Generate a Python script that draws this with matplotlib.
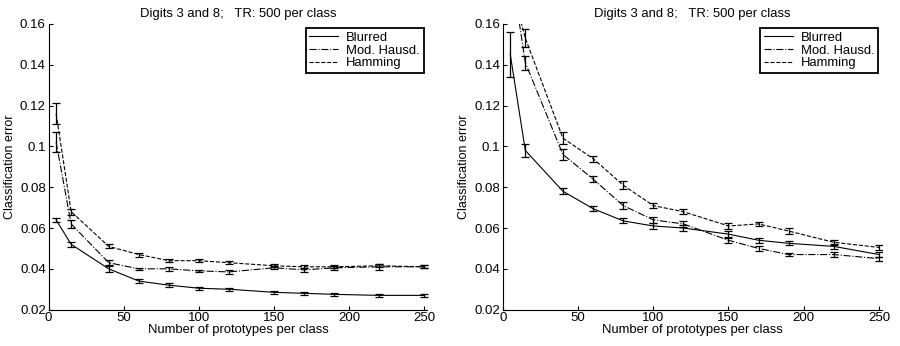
import matplotlib.pyplot as plt
from matplotlib.lines import Line2D

plt.rcParams["font.family"] = ["Liberation Sans", "DejaVu Sans"]

# number of prototypes per class
n_proto = [5, 15, 40, 60, 80, 100, 120, 150, 170, 190, 220, 250]

# left panel
left_blur = [0.064, 0.052, 0.040, 0.034, 0.032, 0.0305, 0.030, 0.0285, 0.028, 0.0275, 0.027, 0.027]
left_blur_err = [0.001, 0.0012, 0.0015, 0.0008, 0.001, 0.0007, 0.0008, 0.0006, 0.0008, 0.0006, 0.0007, 0.0006]
left_haus = [0.102, 0.062, 0.043, 0.040, 0.040, 0.039, 0.0385, 0.0405, 0.0395, 0.0405, 0.041, 0.041]
left_haus_err = [0.005, 0.002, 0.0012, 0.0006, 0.001, 0.0006, 0.001, 0.0008, 0.001, 0.001, 0.0015, 0.0008]
left_hamm = [0.116, 0.068, 0.051, 0.047, 0.044, 0.044, 0.043, 0.0415, 0.041, 0.041, 0.0415, 0.041]
left_hamm_err = [0.005, 0.0015, 0.001, 0.001, 0.0008, 0.0008, 0.0008, 0.0008, 0.0008, 0.0008, 0.0008, 0.0008]

# right panel (first Mod. Hausd. / Hamming points lie above the axis)
right_blur = [0.145, 0.098, 0.078, 0.0695, 0.0635, 0.061, 0.060, 0.057, 0.054, 0.0525, 0.051, 0.047]
right_blur_err = [0.011, 0.003, 0.0015, 0.0012, 0.0012, 0.0013, 0.0013, 0.0013, 0.0012, 0.001, 0.0013, 0.0012]
right_haus = [0.19, 0.141, 0.096, 0.084, 0.071, 0.064, 0.062, 0.054, 0.050, 0.047, 0.047, 0.045]
right_haus_err = [0.004, 0.0035, 0.0025, 0.0015, 0.0015, 0.0015, 0.0015, 0.0013, 0.0012, 0.0008, 0.0012, 0.001]
right_hamm = [0.181, 0.153, 0.104, 0.094, 0.081, 0.071, 0.068, 0.061, 0.062, 0.0585, 0.053, 0.0505]
right_hamm_err = [0.004, 0.0045, 0.003, 0.0015, 0.002, 0.0012, 0.0012, 0.0015, 0.001, 0.0013, 0.0013, 0.0012]

labels = ["Blurred", "Mod. Hausd.", "Hamming"]
styles = ["-", "-.", "--"]

fig = plt.figure(figsize=(9, 3.46), dpi=100)
ax1 = fig.add_axes([0.054, 0.105, 0.421, 0.826])
ax2 = fig.add_axes([0.5586, 0.105, 0.4214, 0.826])

panels = [
    (ax1, [(left_blur, left_blur_err), (left_haus, left_haus_err), (left_hamm, left_hamm_err)]),
    (ax2, [(right_blur, right_blur_err), (right_haus, right_haus_err), (right_hamm, right_hamm_err)]),
]

for ax, series in panels:
    for (vals, errs), ls in zip(series, styles):
        ax.errorbar(n_proto, vals, yerr=errs, ls=ls, color="black", lw=0.8,
                    capsize=3, elinewidth=0.9, capthick=0.9)
    ax.set_xlim(0, 252)
    ax.set_ylim(0.02, 0.16)
    ax.set_xticks([0, 50, 100, 150, 200, 250])
    ax.set_yticks([0.02, 0.04, 0.06, 0.08, 0.1, 0.12, 0.14, 0.16])
    ax.set_yticklabels(["0.02", "0.04", "0.06", "0.08", "0.1", "0.12", "0.14", "0.16"])
    ax.spines["top"].set_visible(False)
    ax.spines["right"].set_visible(False)
    ax.tick_params(direction="in", length=3, labelsize=9.5, pad=2)
    ax.set_title("Digits 3 and 8;   TR: 500 per class", fontsize=9.4, pad=5)
    ax.set_xlabel("Number of prototypes per class", fontsize=9.4, labelpad=0)
    ax.set_ylabel("Classification error", fontsize=9, labelpad=3)
    handles = [Line2D([], [], color="black", lw=0.8, ls=ls) for ls in styles]
    leg = ax.legend(handles, labels, loc="upper right", fontsize=9.4, fancybox=False,
                    framealpha=1, edgecolor="black", handlelength=2.2, borderpad=0.3,
                    labelspacing=0.05, borderaxespad=0.3, handletextpad=0.6)
    leg.get_frame().set_linewidth(1.3)

fig.savefig("out.png", dpi=100)
